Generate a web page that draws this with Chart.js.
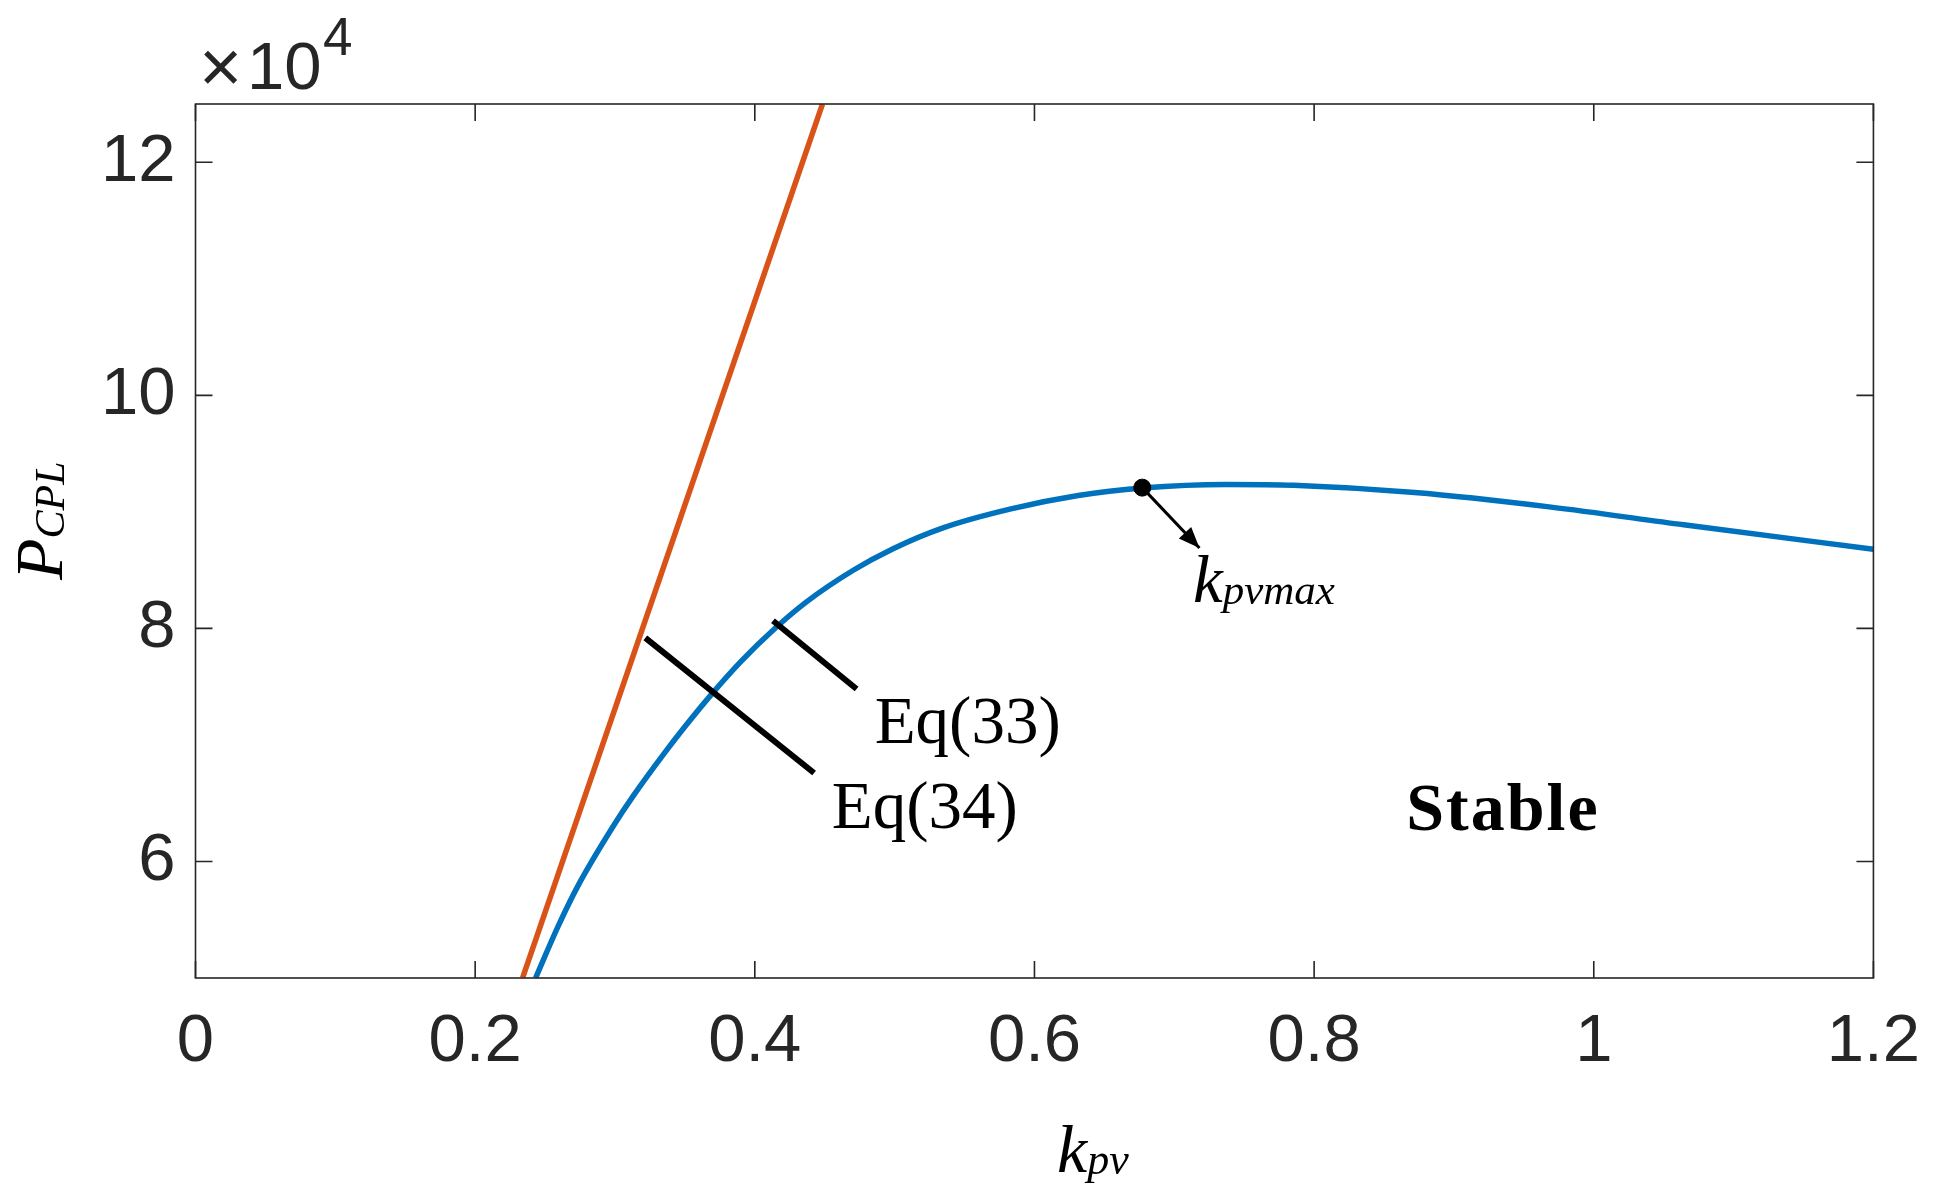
<!DOCTYPE html>
<html lang="en">
<head>
  <meta charset="UTF-8">
  <title>P_CPL versus k_pv</title>
  <style>
    body { margin: 0; padding: 0; background: #fff; }
    #plot { display: block; }
  </style>
</head>
<body>
  <canvas id="plot" width="1944" height="1193"></canvas>

  <script src="https://cdn.jsdelivr.net/npm/chart.js"></script>
  <script>
    // curves: Eq(33) (blue) and Eq(34) (orange)
    const kpvEq33  = [0.2432, 0.2593, 0.2736, 0.2985, 0.3127, 0.3352, 0.3495, 0.3684, 0.3898,
                      0.4147, 0.4372, 0.4704, 0.4989, 0.5351, 0.5832, 0.6313, 0.6771, 0.7372,
                      0.7853, 0.8719, 0.9681, 1.0643, 1.2];
    const pcplEq33 = [50000, 54430, 57930, 62980, 65560, 69270, 71490, 74250, 77120,
                      80030, 82300, 84990, 86840, 88650, 90260, 91410, 92050, 92350,
                      92280, 91660, 90430, 88890, 86790];
    const kpvEq34  = [0.2339, 0.4484];
    const pcplEq34 = [50000, 125000];

    // k_pvmax marker and its arrow
    const kpvMax    = [0.6771];
    const pcplMax   = [92080];
    const arrowKpv  = [0.6771, 0.7180];
    const arrowPcpl = [92080, 86900];

    // leader lines to the Eq labels
    const lead33Kpv  = [0.4130, 0.4728];
    const lead33Pcpl = [80660, 74800];
    const lead34Kpv  = [0.3217, 0.4424];
    const lead34Pcpl = [79180, 67590];

    const xTicks = [0, 0.2, 0.4, 0.6, 0.8, 1, 1.2];
    const yTicks = [60000, 80000, 100000, 120000];

    const AXIS = '#262626';
    const BLUE = '#0072BD';
    const ORANGE = '#D95319';
    const SANS = '"Liberation Sans", Arial, sans-serif';
    const SERIF = '"Liberation Serif", "Times New Roman", serif';

    const pts = (xs, ys) => xs.map((x, i) => ({ x, y: ys[i] }));

    // text labels, placed in data coordinates
    const notes = [
      { text: 'Eq(33)', x: 0.4857, y: 70190, font: '67px ' + SERIF, spacing: '0px' },
      { text: 'Eq(34)', x: 0.4551, y: 62890, font: '67px ' + SERIF, spacing: '0px' },
      { text: 'Stable', x: 0.8659, y: 62660, font: 'bold 68px ' + SERIF, spacing: '2px' }
    ];

    function drawSub(ctx, x, y, main, sub, mainFont, subFont, drop) {
      ctx.font = mainFont;
      ctx.fillText(main, x, y);
      const w = ctx.measureText(main).width;
      ctx.font = subFont;
      ctx.fillText(sub, x + w, y + drop);
    }

    const overlay = {
      id: 'overlay',
      afterDraw(chart) {
        const { ctx, chartArea: a, scales: { x, y } } = chart;
        ctx.save();

        // box + inward ticks on all four sides
        ctx.strokeStyle = AXIS;
        ctx.lineWidth = 1.6;
        ctx.strokeRect(a.left, a.top, a.right - a.left, a.bottom - a.top);
        ctx.beginPath();
        xTicks.forEach(v => {
          const px = x.getPixelForValue(v);
          ctx.moveTo(px, a.bottom); ctx.lineTo(px, a.bottom - 17);
          ctx.moveTo(px, a.top);    ctx.lineTo(px, a.top + 17);
        });
        yTicks.forEach(v => {
          const py = y.getPixelForValue(v);
          ctx.moveTo(a.left, py);  ctx.lineTo(a.left + 17, py);
          ctx.moveTo(a.right, py); ctx.lineTo(a.right - 17, py);
        });
        ctx.stroke();

        // exponent
        ctx.fillStyle = AXIS;
        ctx.textBaseline = 'alphabetic';
        ctx.textAlign = 'left';
        ctx.font = '74px ' + SANS;
        ctx.fillText('\u00d7', 199, 92);
        ctx.font = '67px ' + SANS;
        ctx.fillText('10', 247, 89);
        ctx.font = '53px ' + SANS;
        ctx.fillText('4', 323, 55);

        // arrow head for k_pvmax
        const x0 = x.getPixelForValue(arrowKpv[0]), y0 = y.getPixelForValue(arrowPcpl[0]);
        const x1 = x.getPixelForValue(arrowKpv[1]), y1 = y.getPixelForValue(arrowPcpl[1]);
        const ang = Math.atan2(y1 - y0, x1 - x0);
        const c = Math.cos(ang), s = Math.sin(ang);
        ctx.fillStyle = '#000';
        ctx.beginPath();
        ctx.moveTo(x1, y1);
        ctx.lineTo(x1 - 21 * c + 8.5 * s, y1 - 21 * s - 8.5 * c);
        ctx.lineTo(x1 - 21 * c - 8.5 * s, y1 - 21 * s + 8.5 * c);
        ctx.closePath();
        ctx.fill();

        // annotation text
        notes.forEach(n => {
          ctx.font = n.font;
          ctx.letterSpacing = n.spacing;
          ctx.fillText(n.text, x.getPixelForValue(n.x), y.getPixelForValue(n.y));
        });
        ctx.letterSpacing = '0px';
        drawSub(ctx, x.getPixelForValue(0.7133), y.getPixelForValue(82230),
                'k', 'pvmax', 'italic 67px ' + SERIF, 'italic 43px ' + SERIF, 2);

        // axis titles
        drawSub(ctx, 1057, 1172, 'k', 'pv', 'italic 68px ' + SERIF, 'italic 44px ' + SERIF, 2);
        ctx.translate(62, 580);
        ctx.rotate(-Math.PI / 2);
        drawSub(ctx, 0, 0, 'P', 'CPL', 'italic 68px ' + SERIF, 'italic 42px ' + SERIF, 2);

        ctx.restore();
      }
    };

    new Chart(document.getElementById('plot'), {
      type: 'scatter',
      data: {
        datasets: [
          { label: 'Eq(34) leader', data: pts(lead34Kpv, lead34Pcpl), showLine: true,
            borderColor: '#000', borderWidth: 6, pointRadius: 0, order: 0 },
          { label: 'Eq(33) leader', data: pts(lead33Kpv, lead33Pcpl), showLine: true,
            borderColor: '#000', borderWidth: 6, pointRadius: 0, order: 0 },
          { label: 'arrow', data: pts(arrowKpv, arrowPcpl), showLine: true,
            borderColor: '#000', borderWidth: 3, pointRadius: 0, order: 0 },
          { label: 'kpvmax', data: pts(kpvMax, pcplMax), pointRadius: 8.5,
            backgroundColor: '#000', borderColor: '#000', order: 0 },
          { label: 'Eq(33)', data: pts(kpvEq33, pcplEq33), showLine: true,
            borderColor: BLUE, borderWidth: 5.5, pointRadius: 0,
            cubicInterpolationMode: 'monotone', order: 1 },
          { label: 'Eq(34)', data: pts(kpvEq34, pcplEq34), showLine: true,
            borderColor: ORANGE, borderWidth: 5.5, pointRadius: 0, order: 2 }
        ]
      },
      options: {
        responsive: false,
        devicePixelRatio: 1,
        animation: false,
        events: [],
        layout: { padding: { left: 0, top: 104, right: 62, bottom: 0 } },
        plugins: { legend: { display: false }, tooltip: { enabled: false } },
        scales: {
          x: {
            type: 'linear', min: 0, max: 1.2,
            afterBuildTicks: s => { s.ticks = xTicks.map(v => ({ value: v })); },
            afterFit: s => { s.height = 1193 - 978; },
            grid: { display: false, drawTicks: false },
            border: { display: false },
            ticks: { color: AXIS, padding: 24, font: { family: SANS, size: 67 },
                     maxRotation: 0, callback: v => String(v) }
          },
          y: {
            type: 'linear', min: 50000, max: 125000,
            afterBuildTicks: s => { s.ticks = yTicks.map(v => ({ value: v })); },
            afterFit: s => { s.width = 195.5; },
            grid: { display: false, drawTicks: false },
            border: { display: false },
            ticks: { color: AXIS, padding: 20, font: { family: SANS, size: 67 },
                     callback: v => String(v / 10000) }
          }
        }
      },
      plugins: [overlay]
    });
  </script>
</body>
</html>
